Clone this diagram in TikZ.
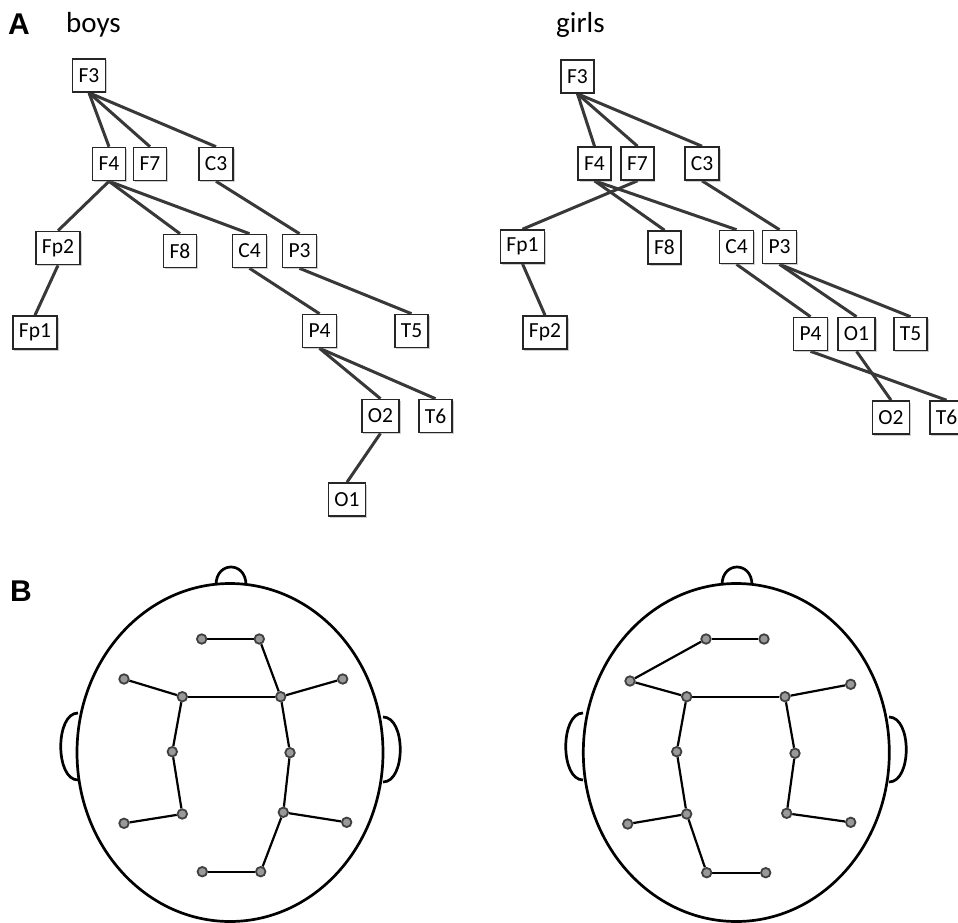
\documentclass[tikz,border=0pt]{standalone}
\usepackage{fontspec}
\setmainfont{Carlito}
\newfontfamily\panelfont{Liberation Sans}
\usetikzlibrary{shadows,backgrounds}
\begin{document}
\begin{tikzpicture}[x=1pt,y=-1pt,
  chan/.style={draw=black!85, line width=1.6pt, fill=white, inner xsep=6pt,
    inner ysep=0pt, minimum height=33pt, font=\fontsize{21.5}{23}\selectfont,
    drop shadow={shadow xshift=1.5pt, shadow yshift=-1.5pt, opacity=0.35, fill=black!55}},
  link/.style={draw=black!78, line width=3pt},
  headline/.style={draw=black, line width=2.7pt},
  wire/.style={draw=black, line width=2.2pt},
  elec/.style={circle, draw=black!75, fill=black!40, line width=1.8pt,
    minimum size=9.5pt, inner sep=0pt},
  panel/.style={anchor=base west, inner sep=0pt, font=\panelfont\bfseries\fontsize{30}{32}\selectfont},
  group/.style={anchor=base west, inner sep=0pt, font=\fontsize{29}{32}\selectfont},
]
\useasboundingbox (0,0) rectangle (958,923);
\clip (0,0) rectangle (958,923);

% ---------- panel labels ----------
\node[panel] (labA) at (8,35) {A};
\node[panel] (labB) at (10,601) {B};
\node[group] (boys) at (66,33) {boys};
\node[group] (girls) at (556,33) {girls};

% ---------- A: boys tree ----------
\node[chan] (bF3)  at (89,75.5)  {F3};
\node[chan] (bF4)  at (109,164)  {F4};
\node[chan] (bF7)  at (150,164)  {F7};
\node[chan] (bC3)  at (216,164)  {C3};
\node[chan] (bFp2) at (58,248)   {Fp2};
\node[chan] (bF8)  at (180,251)  {F8};
\node[chan] (bC4)  at (249.5,251) {C4};
\node[chan] (bP3)  at (299.5,251) {P3};
\node[chan] (bFp1) at (35,332.5) {Fp1};
\node[chan] (bP4)  at (319.5,331) {P4};
\node[chan] (bT5)  at (411.5,331) {T5};
\node[chan] (bO2)  at (380.5,416) {O2};
\node[chan] (bT6)  at (435.5,416) {T6};
\node[chan] (bO1)  at (347,499.5) {O1};

% ---------- A: girls tree ----------
\node[chan] (gF3)  at (577.5,76.5) {F3};
\node[chan] (gF4)  at (594.5,163.5) {F4};
\node[chan] (gF7)  at (637.5,163.5) {F7};
\node[chan] (gC3)  at (702,163.5)  {C3};
\node[chan] (gFp1) at (522.5,246.5) {Fp1};
\node[chan] (gF8)  at (664.5,247.5) {F8};
\node[chan] (gC4)  at (736.5,247)  {C4};
\node[chan] (gP3)  at (779.5,247)  {P3};
\node[chan] (gFp2) at (545,332.5)  {Fp2};
\node[chan] (gP4)  at (810.5,334)  {P4};
\node[chan] (gO1)  at (856.5,334)  {O1};
\node[chan] (gT5)  at (910.5,334)  {T5};
\node[chan] (gO2)  at (891,417.5)  {O2};
\node[chan] (gT6)  at (946.5,417.5) {T6};

\begin{pgfonlayer}{background}
  \foreach \p/\c in {bF3/bF4, bF3/bF7, bF3/bC3, bF4/bFp2, bF4/bF8, bF4/bC4,
                     bC3/bP3, bFp2/bFp1, bC4/bP4, bP3/bT5, bP4/bO2, bP4/bT6, bO2/bO1,
                     gF3/gF4, gF3/gF7, gF3/gC3, gF7/gFp1, gF4/gF8, gF4/gC4,
                     gC3/gP3, gFp1/gFp2, gC4/gP4, gP3/gO1, gP3/gT5, gP4/gT6, gO1/gO2}
    \draw[link] (\p.south) -- (\c.north);
\end{pgfonlayer}

% ---------- B: head outlines ----------
\foreach \cx/\nx/\le/\re in {230/231/78/383, 736.3/737/583/889} {
  \draw[headline] (\cx,752.5) ellipse[x radius=153, y radius=169];
  % nose
  \draw[headline] (\nx-15,585) .. controls (\nx-15,561) and (\nx+15,561) .. (\nx+15,585);
  % ears
  \draw[headline] (\le,713) .. controls (\le-23,713) and (\le-23,780) .. (\le,780);
  \draw[headline] (\re,717) .. controls (\re+23,717) and (\re+23,782) .. (\re,782);
}

% ---------- B: boys electrodes ----------
\node[elec] (hbF3)  at (182.3,696.7) {};
\node[elec] (hbF4)  at (280.7,696.7) {};
\node[elec] (hbF7)  at (124,679) {};
\node[elec] (hbC3)  at (172.3,751.7) {};
\node[elec] (hbFp2) at (259.3,639) {};
\node[elec] (hbFp1) at (201.7,639) {};
\node[elec] (hbF8)  at (342.7,679) {};
\node[elec] (hbC4)  at (290,752.7) {};
\node[elec] (hbP3)  at (182.3,814) {};
\node[elec] (hbT5)  at (124,823.3) {};
\node[elec] (hbP4)  at (283.3,812.3) {};
\node[elec] (hbT6)  at (346.7,822.3) {};
\node[elec] (hbO2)  at (260.7,871.7) {};
\node[elec] (hbO1)  at (202.3,871.7) {};

% ---------- B: girls electrodes ----------
\node[elec] (hgF3)  at (686.7,696.7) {};
\node[elec] (hgF4)  at (785,696.7) {};
\node[elec] (hgF7)  at (630,681) {};
\node[elec] (hgC3)  at (676.7,751.7) {};
\node[elec] (hgFp1) at (706,639) {};
\node[elec] (hgFp2) at (764,639) {};
\node[elec] (hgF8)  at (850.7,684.3) {};
\node[elec] (hgC4)  at (795,753.3) {};
\node[elec] (hgP3)  at (686.7,814) {};
\node[elec] (hgT5)  at (627.7,824) {};
\node[elec] (hgP4)  at (786.7,813.3) {};
\node[elec] (hgT6)  at (850.7,822.3) {};
\node[elec] (hgO1)  at (706.7,872.7) {};
\node[elec] (hgO2)  at (765.7,872.7) {};

\begin{pgfonlayer}{background}
  \foreach \a/\b in {hbF3/hbF4, hbF3/hbF7, hbF3/hbC3, hbF4/hbFp2, hbF4/hbF8, hbF4/hbC4,
                     hbC3/hbP3, hbFp2/hbFp1, hbC4/hbP4, hbP3/hbT5, hbP4/hbO2, hbP4/hbT6, hbO2/hbO1,
                     hgF3/hgF4, hgF3/hgF7, hgF3/hgC3, hgF7/hgFp1, hgF4/hgF8, hgF4/hgC4,
                     hgC3/hgP3, hgFp1/hgFp2, hgC4/hgP4, hgP3/hgO1, hgP3/hgT5, hgP4/hgT6, hgO1/hgO2}
    \draw[wire] (\a) -- (\b);
\end{pgfonlayer}
\end{tikzpicture}
\end{document}
